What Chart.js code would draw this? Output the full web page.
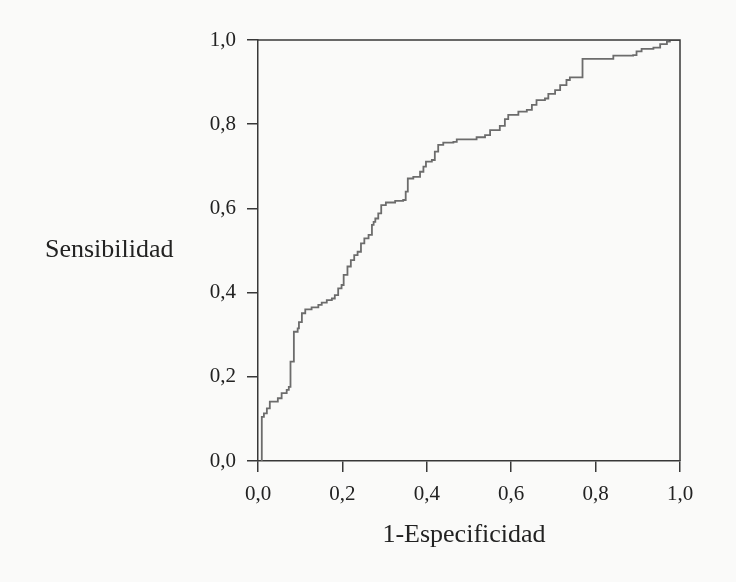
<!DOCTYPE html>
<html>
<head>
<meta charset="utf-8">
<script src="https://cdn.jsdelivr.net/npm/chart.js@4.4.0/dist/chart.umd.min.js"></script>
<style>
  html, body { margin: 0; padding: 0; background: #fafaf9; }
  #wrap { width: 736px; height: 582px; }
</style>
</head>
<body>
<div id="wrap"><canvas id="rocChart" width="736" height="582"></canvas></div>
<script>
// ROC curve: 1-specificity (x) and sensitivity (y)
var fpr = [0.009, 0.009, 0.014, 0.021, 0.028, 0.047, 0.056, 0.068, 0.073, 0.077,
           0.085, 0.094, 0.097, 0.104, 0.112, 0.127, 0.143, 0.151, 0.163, 0.175,
           0.182, 0.190, 0.198, 0.203, 0.212, 0.220, 0.228, 0.236, 0.244, 0.252,
           0.262, 0.270, 0.274, 0.278, 0.285, 0.292, 0.303, 0.325, 0.344, 0.350,
           0.355, 0.368, 0.384, 0.392, 0.398, 0.412, 0.419, 0.427, 0.439, 0.463,
           0.471, 0.518, 0.538, 0.550, 0.573, 0.585, 0.593, 0.617, 0.637, 0.649,
           0.660, 0.680, 0.688, 0.704, 0.716, 0.731, 0.739, 0.769, 0.814, 0.842,
           0.889, 0.897, 0.909, 0.937, 0.953, 0.969, 0.976, 1.000];
var tpr = [0.000, 0.105, 0.113, 0.125, 0.141, 0.149, 0.161, 0.169, 0.176, 0.236,
           0.307, 0.315, 0.330, 0.351, 0.360, 0.365, 0.371, 0.376, 0.382, 0.386,
           0.394, 0.410, 0.418, 0.442, 0.462, 0.477, 0.489, 0.497, 0.517, 0.529,
           0.537, 0.561, 0.568, 0.576, 0.588, 0.608, 0.614, 0.618, 0.620, 0.640,
           0.671, 0.675, 0.687, 0.699, 0.711, 0.715, 0.735, 0.751, 0.756, 0.758,
           0.764, 0.769, 0.774, 0.786, 0.796, 0.812, 0.822, 0.830, 0.834, 0.846,
           0.857, 0.861, 0.872, 0.881, 0.893, 0.905, 0.911, 0.955, 0.955, 0.963,
           0.964, 0.973, 0.979, 0.982, 0.990, 0.996, 1.000, 1.000];

var tickValues = [0, 0.2, 0.4, 0.6, 0.8, 1.0];
var tickLabels = ['0,0', '0,2', '0,4', '0,6', '0,8', '1,0'];
var xTitle = '1-Especificidad';
var yTitle = 'Sensibilidad';

var serif = "'Liberation Serif', 'DejaVu Serif', serif";
var axisColor = '#383838';
var textColor = '#222222';

let tickLabel = (v) => {
    var i = tickValues.findIndex(t => Math.abs(t - v) < 1e-6);
    return i >= 0 ? tickLabels[i] : '';
};

var points = fpr.map((x, i) => ({ x: x, y: tpr[i] }));

// box around the plot and the two axis titles
var framePlugin = {
    id: 'frame',
    afterDraw: function(chart) {
        var ctx = chart.ctx;
        var a = chart.chartArea;
        ctx.save();
        ctx.strokeStyle = axisColor;
        ctx.lineWidth = 1.5;
        ctx.beginPath();
        ctx.moveTo(a.left, a.top);
        ctx.lineTo(a.right, a.top);
        ctx.lineTo(a.right, a.bottom);
        ctx.stroke();

        ctx.fillStyle = textColor;
        ctx.font = '26px ' + serif;
        ctx.textBaseline = 'alphabetic';
        ctx.textAlign = 'left';
        ctx.fillText(yTitle, 45, 257);
        ctx.textAlign = 'center';
        ctx.fillText(xTitle, 464, 542);
        ctx.restore();
    }
};

var ctxR = document.getElementById('rocChart').getContext('2d');
var rocChart = new Chart(ctxR, {
    type: 'scatter',
    data: {
        datasets: [{
            data: points,
            showLine: true,
            stepped: true,
            borderColor: '#6c6c6c',
            borderWidth: 1.8,
            pointRadius: 0,
            fill: false
        }]
    },
    options: {
        responsive: false,
        animation: false,
        layout: { padding: { top: 40, right: 56, left: 0, bottom: 0 } },
        plugins: {
            legend: { display: false },
            tooltip: { enabled: false }
        },
        scales: {
            x: {
                type: 'linear',
                min: 0,
                max: 1,
                afterFit: (s) => { s.height = 121; },
                afterBuildTicks: (s) => { s.ticks = tickValues.map(v => ({ value: v })); },
                border: { display: true, color: axisColor, width: 1.5 },
                grid: { drawOnChartArea: false, drawTicks: true, tickLength: 11, color: axisColor, lineWidth: 1.5 },
                ticks: {
                    callback: tickLabel,
                    color: textColor,
                    padding: 10,
                    maxRotation: 0,
                    font: { family: serif, size: 21 }
                }
            },
            y: {
                type: 'linear',
                min: 0,
                max: 1,
                afterFit: (s) => { s.width = 258; },
                afterBuildTicks: (s) => { s.ticks = tickValues.map(v => ({ value: v })); },
                border: { display: true, color: axisColor, width: 1.5 },
                grid: { drawOnChartArea: false, drawTicks: true, tickLength: 11, color: axisColor, lineWidth: 1.5 },
                ticks: {
                    callback: tickLabel,
                    color: textColor,
                    padding: 11,
                    font: { family: serif, size: 21 }
                }
            }
        }
    },
    plugins: [framePlugin]
});
</script>
</body>
</html>
